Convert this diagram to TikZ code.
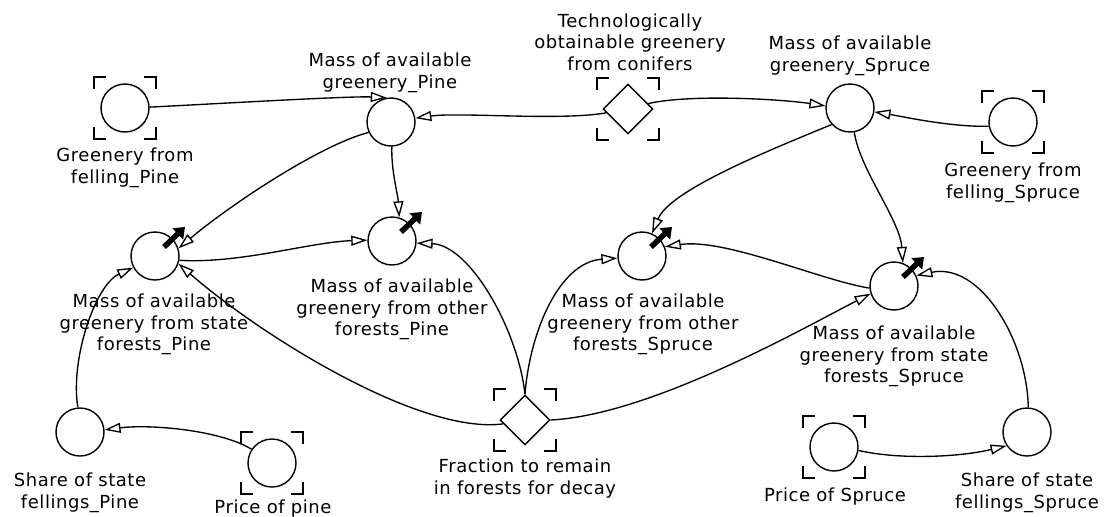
\documentclass[tikz,border=0pt]{standalone}
\usepackage{fontspec}
\setmainfont[LetterSpace=3]{DejaVu Sans}
\usetikzlibrary{arrows.meta,shapes.geometric,calc}
\begin{document}
\begin{tikzpicture}[x=1pt,y=-1pt,
  var/.style={circle,draw,line width=1.4pt,minimum size=48pt,inner sep=0pt},
  par/.style={diamond,draw,line width=1.4pt,minimum size=50pt,inner sep=0pt},
  lbl/.style={align=center,inner sep=0pt,anchor=north,font=\fontsize{18}{21.5}\selectfont},
  link/.style={line width=1.35pt,-{Triangle[length=16pt,width=10pt,fill=white]}},
  flowarr/.style={line width=5.5pt,-{Triangle[length=10pt,width=15pt]}},
  brk/.pic={\draw[line width=1.6pt] (-31,-19) -- (-31,-31) -- (-19,-31)
      (19,-31) -- (31,-31) -- (31,-19) (31,19) -- (31,31) -- (19,31)
      (-19,31) -- (-31,31) -- (-31,19);}
]
\useasboundingbox[fill=white] (0,0) rectangle (1104,517);

% nodes
\node[var] (GFP) at (125,108) {};
\node[var] (MP)  at (391,122) {};
\node[par] (TG)  at (628,109) {};
\node[var] (MS)  at (850,108) {};
\node[var] (GFS) at (1013,122) {};
\node[var] (MSP) at (155,256) {};
\node[var] (MOP) at (392,241) {};
\node[var] (MOS) at (642,256) {};
\node[var] (MSS) at (894,286) {};
\node[var] (SSP) at (80,432) {};
\node[var] (PP)  at (272,463) {};
\node[par] (FR)  at (525,420) {};
\node[var] (PS)  at (834,447) {};
\node[var] (SSS) at (1027,432) {};

% brackets
\pic at (GFP) {brk};
\pic at (TG)  {brk};
\pic at (GFS) {brk};
\pic at (PP)  {brk};
\pic at (FR)  {brk};
\pic at (PS)  {brk};

% labels
\node[lbl] (GFPt) at (125,148) {Greenery from\\felling\_Pine};
\node[lbl] (MPt)  at (390,53) {Mass of available\\greenery\_Pine};
\node[lbl] (TGt)  at (630,13.5) {Technologically\\obtainable greenery\\from conifers};
\node[lbl] (MSt)  at (850,36) {Mass of available\\greenery\_Spruce};
\node[lbl] (GFSt) at (1013,163) {Greenery from\\felling\_Spruce};
\node[lbl] (MSPt) at (154,294) {Mass of available\\greenery from state\\forests\_Pine};
\node[lbl] (MOPt) at (392,279) {Mass of available\\greenery from other\\forests\_Pine};
\node[lbl] (MOSt) at (643,294) {Mass of available\\greenery from other\\forests\_Spruce};
\node[lbl] (MSSt) at (894,326) {Mass of available\\greenery from state\\forests\_Spruce};
\node[lbl] (SSPt) at (80,473) {Share of state\\fellings\_Pine};
\node[lbl] (PPt)  at (273,500) {Price of pine};
\node[lbl] (FRt)  at (525,459) {Fraction to remain\\in forests for decay};
\node[lbl] (PSt)  at (835,488) {Price of Spruce};
\node[lbl] (SSSt) at (1027,473) {Share of state\\fellings\_Spruce};

% flow indicators
\foreach \n in {MSP,MOP,MOS,MSS}{
  \draw[flowarr] ($(\n)+(9,-9)$) -- ($(\n)+(30,-29)$);
}

% connectors
\draw[link] (GFP.2) .. controls (230,103) and (350,96) .. (MP.100);
\draw[link] (TG.190) .. controls (560,121) and (460,112) .. (MP.9);
\draw[link] (TG.15) .. controls (690,94) and (780,99) .. (MS.175);
\draw[link] (GFS.190) .. controls (950,127) and (905,117) .. (MS.-9);
\draw[link] (MP.205) .. controls (320,145) and (230,205) .. (MSP.18);
\draw[link] (MP.272) .. controls (391,170) and (398,195) .. (MOP.73);
\draw[link] (MSP.-10) .. controls (240,264) and (310,242) .. (MOP.178);
\draw[link] (FR.north) .. controls (518,330) and (470,245) .. (MOP.-5);
\draw[link] (FR.190) .. controls (420,435) and (260,335) .. (MSP.-18);
\draw[link] (FR.north) .. controls (530,330) and (560,262) .. (MOS.185);
\draw[link] (FR.east) .. controls (650,415) and (800,330) .. (MSS.198);
\draw[link] (MS.222) .. controls (770,150) and (670,190) .. (MOS.66);
\draw[link] (MS.-80) .. controls (860,170) and (900,220) .. (MSS.69);
\draw[link] (SSS.87) .. controls (1027,340) and (980,262) .. (MSS.25);
\draw[link] (MSS.185) .. controls (820,280) and (725,238) .. (MOS.22);
\draw[link] (SSP.95) .. controls (70,360) and (95,285) .. (MSP.208);
\draw[link] (PP.146) .. controls (220,430) and (150,424) .. (SSP.5);
\draw[link] (PS.-8) .. controls (900,460) and (960,457) .. (SSS.214);
\end{tikzpicture}
\end{document}
